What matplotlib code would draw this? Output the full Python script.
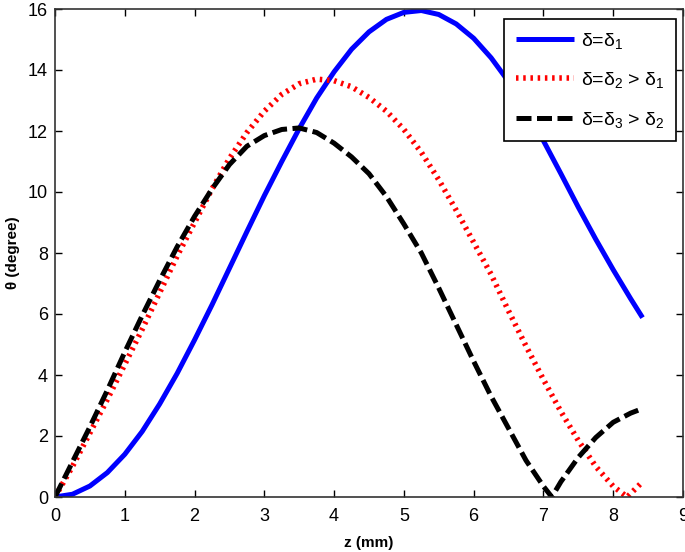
import matplotlib
matplotlib.use("Agg")
import matplotlib.pyplot as plt

plt.rcParams['font.family'] = ['Liberation Sans', 'DejaVu Sans']
plt.rcParams['mathtext.fontset'] = 'custom'
plt.rcParams['mathtext.rm'] = 'Liberation Sans'
plt.rcParams['mathtext.it'] = 'Liberation Sans'

# z positions (mm)
z_blue = [0, 0.25, 0.5, 0.75, 1.0, 1.25, 1.5, 1.75, 2.0, 2.25, 2.5, 2.75, 3.0, 3.25,
          3.5, 3.75, 4.0, 4.25, 4.5, 4.75, 5.0, 5.25, 5.5, 5.75, 6.0, 6.25, 6.5,
          6.75, 7.0, 7.25, 7.5, 7.75, 8.0, 8.25, 8.42]
theta_blue = [0, 0.09, 0.36, 0.8, 1.4, 2.15, 3.05, 4.05, 5.15, 6.3, 7.5, 8.7, 9.88,
              11.0, 12.08, 13.08, 13.94, 14.68, 15.25, 15.66, 15.89, 15.95, 15.82,
              15.51, 15.04, 14.4, 13.62, 12.7, 11.68, 10.6, 9.5, 8.45, 7.45, 6.5, 5.88]

z_red = [0, 0.25, 0.5, 0.75, 1.0, 1.25, 1.5, 1.75, 2.0, 2.25, 2.5, 2.75, 3.0, 3.25,
         3.5, 3.75, 4.0, 4.25, 4.5, 4.75, 5.0, 5.25, 5.5, 5.75, 6.0, 6.25, 6.5,
         6.75, 7.0, 7.25, 7.5, 7.75, 8.0, 8.2, 8.42]
theta_red = [0, 1.0, 2.1, 3.2, 4.35, 5.5, 6.7, 7.9, 9.0, 10.1, 11.1, 11.95, 12.65,
             13.2, 13.55, 13.7, 13.65, 13.45, 13.1, 12.65, 12.05, 11.3, 10.4, 9.4,
             8.35, 7.3, 6.1, 4.95, 3.85, 2.8, 1.85, 1.0, 0.35, 0.0, 0.5]

z_black = [0, 0.25, 0.5, 0.75, 1.0, 1.25, 1.5, 1.75, 2.0, 2.25, 2.5, 2.75, 3.0, 3.25,
           3.5, 3.75, 4.0, 4.25, 4.5, 4.75, 5.0, 5.25, 5.5, 5.75, 6.0, 6.25, 6.5,
           6.75, 7.0, 7.12, 7.25, 7.5, 7.75, 8.0, 8.25, 8.42]
theta_black = [0, 1.15, 2.3, 3.5, 4.75, 5.95, 7.1, 8.2, 9.2, 10.1, 10.9, 11.5, 11.85,
               12.05, 12.1, 11.95, 11.6, 11.15, 10.6, 9.85, 8.95, 8.0, 6.85, 5.65,
               4.45, 3.3, 2.25, 1.2, 0.35, 0.0, 0.5, 1.3, 1.95, 2.45, 2.75, 2.9]

labels = [r'δ=δ$_1$', r'δ=δ$_2$ > δ$_1$', r'δ=δ$_3$ > δ$_2$']
xticks = [0, 1, 2, 3, 4, 5, 6, 7, 8, 9]
yticks = [0, 2, 4, 6, 8, 10, 12, 14, 16]

fig = plt.figure(figsize=(6.85, 5.52), dpi=100)
ax = fig.add_axes([55/685, 55/552, 628/685, 488/552])

ax.plot(z_blue, theta_blue, color='#0000ff', lw=3.6, solid_capstyle='butt', label=labels[0])
ax.plot(z_red, theta_red, color='#ff0000', lw=4.0, linestyle=(0, (0.45, 0.85)),
        dash_capstyle='butt', label=labels[1])
ax.plot(z_black, theta_black, color='black', lw=3.6, linestyle=(0, (3, 1.1)),
        dash_capstyle='butt', label=labels[2])

ax.set_xlim(0, 9)
ax.set_ylim(0, 16)
ax.set_xticks(xticks)
ax.set_yticks(yticks)
ax.tick_params(direction='in', length=5, width=1, top=True, right=True,
               labelsize=13, colors='black')
ax.tick_params(axis='x', pad=8)
ax.tick_params(axis='y', pad=5)
for s in ax.spines.values():
    s.set_linewidth(1.2)
    s.set_color('#333333')

ax.set_xlabel('z (mm)', fontsize=11, fontweight='bold', labelpad=8)
ax.set_ylabel('θ (degree)', fontsize=11, fontweight='bold', labelpad=6)

leg = ax.legend(loc='upper right', bbox_to_anchor=(676/685, 533/552),
                bbox_transform=fig.transFigure, borderaxespad=0, fontsize=14,
                frameon=True, framealpha=1, fancybox=False, edgecolor='black',
                handlelength=3.0, handletextpad=0.35, labelspacing=1.0,
                borderpad=0.6)
leg.get_frame().set_linewidth(1.2)

fig.savefig('out.png', dpi=100)
